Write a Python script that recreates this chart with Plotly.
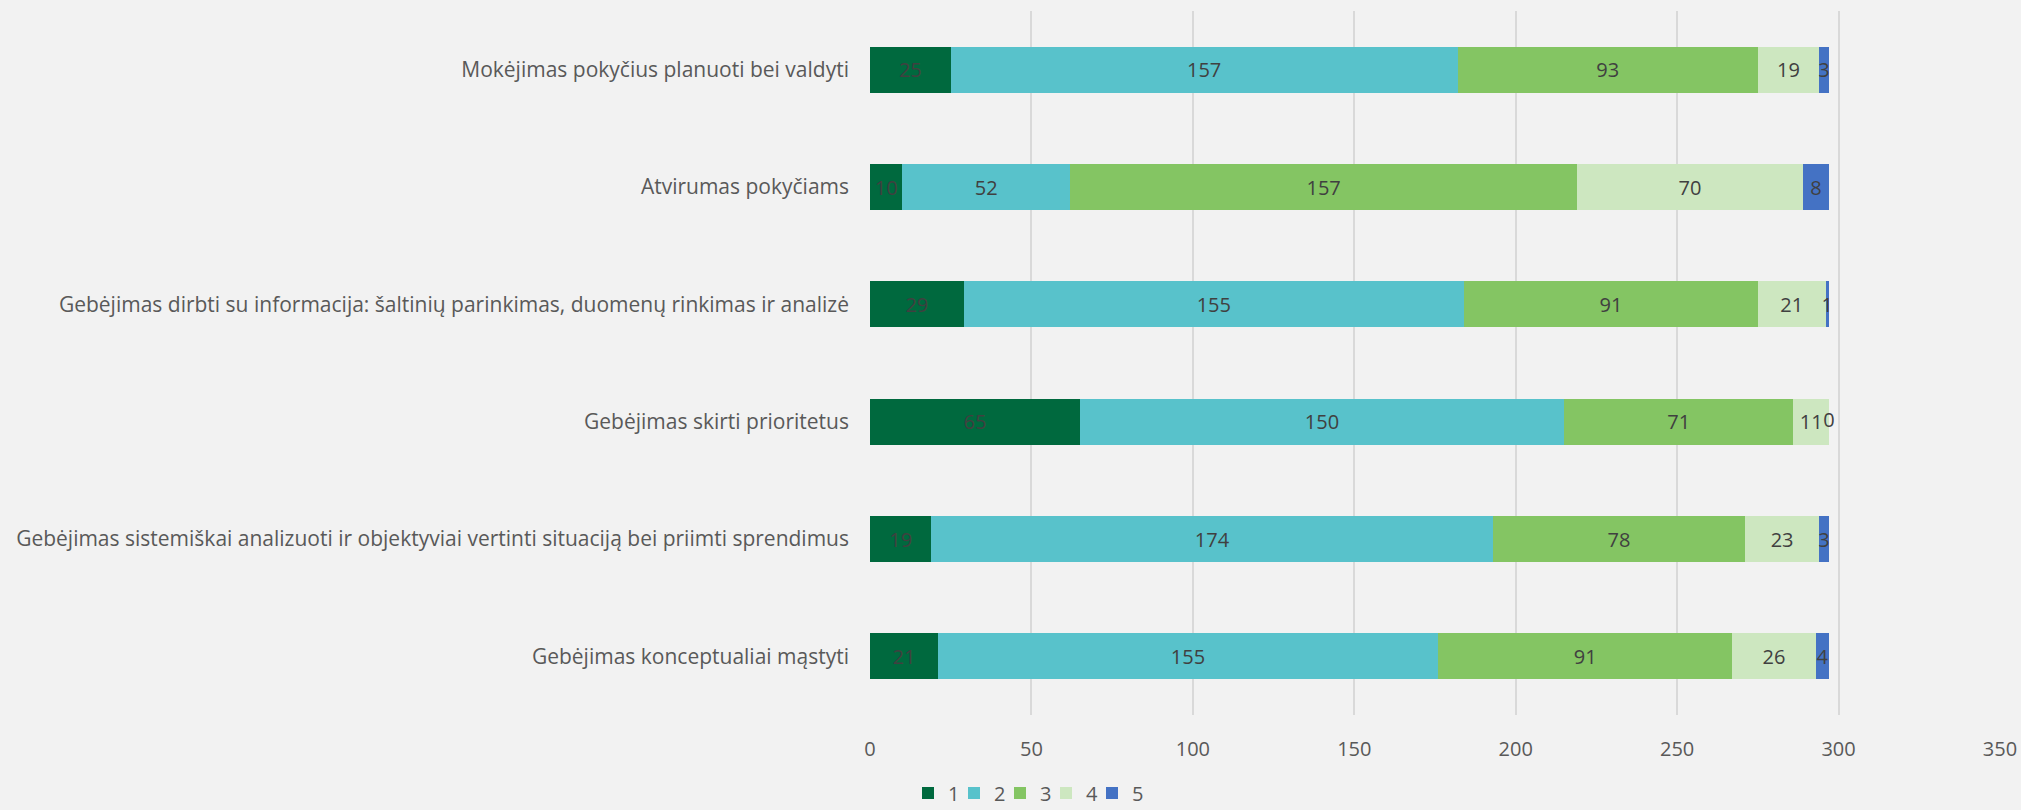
import plotly.graph_objects as go

categories = [
    "Mokėjimas pokyčius planuoti bei valdyti",
    "Atvirumas pokyčiams",
    "Gebėjimas dirbti su informacija: šaltinių parinkimas, duomenų rinkimas ir analizė",
    "Gebėjimas skirti prioritetus",
    "Gebėjimas sistemiškai analizuoti ir objektyviai vertinti situaciją bei priimti sprendimus",
    "Gebėjimas konceptualiai mąstyti",
]
series_names = ["1", "2", "3", "4", "5"]
s1 = [25, 10, 29, 65, 19, 21]
s2 = [157, 52, 155, 150, 174, 155]
s3 = [93, 157, 91, 71, 78, 91]
s4 = [19, 70, 21, 11, 23, 26]
s5 = [3, 8, 1, 0, 3, 4]
series_values = [s1, s2, s3, s4, s5]
colors = ["#00693E", "#58C2CB", "#84C563", "#CDE7C0", "#4472C4"]
x_ticks = [0, 50, 100, 150, 200, 250, 300, 350]

FONT = "Open Sans, sans-serif"
LABEL_COLOR = "#404040"

fig = go.Figure()
for name, vals, col in zip(series_names, series_values, colors):
    fig.add_trace(go.Bar(
        y=categories, x=vals, name=name, orientation="h",
        marker=dict(color=col, line=dict(width=0)),
        text=[str(v) if v != 0 else "" for v in vals], textposition="inside",
        insidetextanchor="middle", textangle=0, constraintext="none",
        textfont=dict(family=FONT, size=20, color=LABEL_COLOR),
        width=0.39, cliponaxis=False,
    ))

# labels for zero-valued segments (drawn at the end of the stack)
zx, zy = [], []
for i, cat in enumerate(categories):
    total = 0
    for vals in series_values:
        total += vals[i]
        if vals[i] == 0:
            zx.append(total)
            zy.append(cat)
fig.add_trace(go.Scatter(
    x=zx, y=zy, mode="text", text=["0"] * len(zx), textposition="middle center",
    textfont=dict(family=FONT, size=20, color=LABEL_COLOR),
    showlegend=False, hoverinfo="skip", cliponaxis=False,
))

fig.update_layout(
    barmode="stack",
    width=2021, height=810,
    paper_bgcolor="#F2F2F2", plot_bgcolor="#F2F2F2",
    margin=dict(l=870, r=21, t=11, b=95, autoexpand=False),
    font=dict(family=FONT, size=20, color="#595959"),
    xaxis=dict(range=[0, 350], tickvals=x_ticks, showgrid=True, gridcolor="#D9D9D9",
               gridwidth=1.5, zeroline=False, showline=False, ticks="",
               tickfont=dict(size=20, color="#595959"), ticklabelstandoff=20),
    yaxis=dict(categoryorder="array", categoryarray=categories, autorange="reversed",
               showgrid=False, ticks="", tickfont=dict(size=21, color="#595959"),
               ticklabelstandoff=20),
    legend=dict(orientation="h", xref="container", yref="paper",
                x=898 / 2021, xanchor="left", y=-(793 - 715) / 704, yanchor="middle",
                font=dict(size=20, color="#595959"), traceorder="normal",
                itemwidth=30, entrywidth=1, entrywidthmode="pixels",
                borderwidth=10, bordercolor="rgba(0,0,0,0)",
                bgcolor="rgba(0,0,0,0)"),
    showlegend=True,
)

post = (
    "document.body.style.margin='0';"
    "document.querySelectorAll('.legend .scrollbox, .legend').forEach(function(e){"
    "e.removeAttribute('clip-path');});"
)
fig.write_html("out.html", config={"displayModeBar": False}, post_script=post)
